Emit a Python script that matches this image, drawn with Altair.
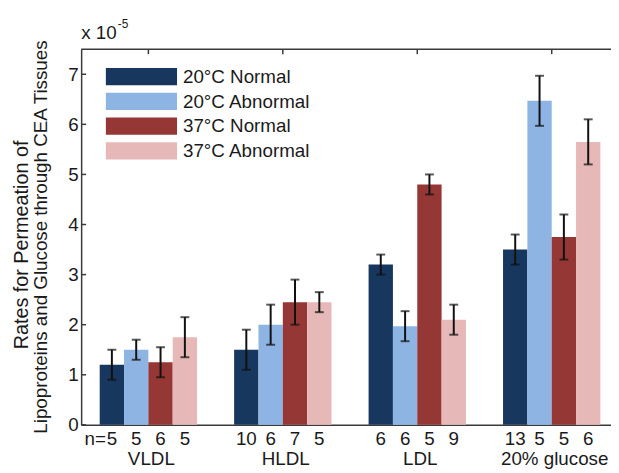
import altair as alt
import pandas as pd

# ---- data ----
groups = ["VLDL", "HLDL", "LDL", "20% glucose"]
series = ["20°C Normal", "20°C Abnormal", "37°C Normal", "37°C Abnormal"]
colors = ["#17375E", "#8DB4E2", "#953735", "#E6B9B8"]

means_20N = [1.2, 1.5, 3.2, 3.5]
means_20A = [1.5, 2.0, 1.97, 6.47]
means_37N = [1.25, 2.45, 4.8, 3.75]
means_37A = [1.75, 2.45, 2.1, 5.65]

err_20N = [0.3, 0.4, 0.2, 0.3]
err_20A = [0.2, 0.4, 0.3, 0.5]
err_37N = [0.3, 0.45, 0.2, 0.45]
err_37A = [0.4, 0.2, 0.3, 0.45]

n_20N = [5, 10, 6, 13]
n_20A = [5, 6, 6, 5]
n_37N = [6, 7, 5, 5]
n_37A = [5, 5, 9, 6]

y_ticks = [0, 1, 2, 3, 4, 5, 6, 7]

# ---- layout ----
W, H = 536, 380
PAD_L, PAD_T = 74, 39
BAR_W = 0.181  # in group units
FONT = "Liberation Sans"
FS = 19
TXT = "#1a1a1a"
AX = "#3a3a3a"

means = [means_20N, means_20A, means_37N, means_37A]
errs = [err_20N, err_20A, err_37N, err_37A]
ns = [n_20N, n_20A, n_37N, n_37A]

rows = []
for si, s in enumerate(series):
    off = (si - 1.5) * BAR_W
    for gi, g in enumerate(groups):
        c = gi + 1 + off
        m = means[si][gi]
        e = errs[si][gi]
        rows.append(dict(series=s, group=g, x=c, x0=c - BAR_W / 2, x1=c + BAR_W / 2,
                         base=0.0, mean=m, lo=m - e, hi=m + e, n=str(ns[si][gi])))
df = pd.DataFrame(rows)

xscale = alt.Scale(domain=[0.5, 4.441], nice=False, zero=False)
yscale = alt.Scale(domain=[0, 7.5], nice=False)
xaxis = alt.Axis(labels=False, ticks=False, grid=False, title=None,
                 domainColor=AX, domainWidth=1.5)
yaxis = alt.Axis(values=y_ticks, ticks=False, grid=False, title=None,
                 labelFont=FONT, labelFontSize=FS, labelColor=TXT, labelPadding=3,
                 domainColor=AX, domainWidth=1.5)
X = lambda f: alt.X(f, scale=xscale, axis=xaxis)
Y = lambda f: alt.Y(f, scale=yscale, axis=yaxis)
cscale = alt.Scale(domain=series, range=colors)

bars = alt.Chart(df).mark_rect(stroke=None).encode(
    x=X("x0:Q"), x2="x1:Q", y=Y("mean:Q"), y2="base:Q",
    color=alt.Color("series:N", scale=cscale, legend=None),
)
err_rule = alt.Chart(df).mark_rule(color="#111", strokeWidth=2).encode(
    x=X("x:Q"), y=Y("lo:Q"), y2="hi:Q")
cap_lo = alt.Chart(df).mark_tick(color="#111", orient="horizontal", size=9, thickness=2).encode(
    x=X("x:Q"), y=Y("lo:Q"))
cap_hi = alt.Chart(df).mark_tick(color="#111", orient="horizontal", size=9, thickness=2).encode(
    x=X("x:Q"), y=Y("hi:Q"))

# inward ticks on left axis and top frame
ytick_df = pd.DataFrame({"v": y_ticks})
left_ticks = alt.Chart(ytick_df).mark_rule(color=AX, strokeWidth=1.5).encode(
    y=Y("v:Q"), x=alt.value(0), x2=alt.value(5))
gpos_df = pd.DataFrame({"g": groups, "pos": [1, 2, 3, 4]})
top_ticks = alt.Chart(gpos_df).mark_rule(color=AX, strokeWidth=1.5).encode(
    x=X("pos:Q"), y=alt.value(0), y2=alt.value(5))
top_frame = alt.Chart(gpos_df.head(1)).mark_rule(color=AX, strokeWidth=1.5).encode(
    x=alt.value(0), x2=alt.value(W), y=alt.value(0))

# n labels and group labels
n_text = alt.Chart(df).mark_text(font=FONT, fontSize=FS, color=TXT, baseline="middle").encode(
    x=X("x:Q"), y=alt.value(H + 14), text="n:N")
first = df[(df.series == series[0]) & (df.group == groups[0])]
n_eq = alt.Chart(first).mark_text(font=FONT, fontSize=FS, color=TXT, baseline="middle",
                                  align="right", dx=-6).encode(
    x=X("x:Q"), y=alt.value(H + 14), text=alt.value("n="))
g_text = alt.Chart(gpos_df).mark_text(font=FONT, fontSize=FS, color=TXT, baseline="middle",
                                      dx=3).encode(
    x=X("pos:Q"), y=alt.value(H + 35), text="g:N")

# exponent label
one = pd.DataFrame({"k": [0]})
x10 = alt.Chart(one).mark_text(font=FONT, fontSize=FS, color=TXT, align="left",
                               baseline="alphabetic").encode(
    x=alt.value(0), y=alt.value(-10), text=alt.value("x 10"))
x10e = alt.Chart(one).mark_text(font=FONT, fontSize=12, color=TXT, align="left",
                                baseline="alphabetic").encode(
    x=alt.value(37), y=alt.value(-21), text=alt.value("-5"))

# y title (two lines)
yt1 = alt.Chart(one).mark_text(font=FONT, fontSize=FS + 1, color=TXT, angle=270, align="center",
                               baseline="alphabetic").encode(
    x=alt.value(-54), y=alt.value(198), text=alt.value("Rates for Permeation of"))
yt2 = alt.Chart(one).mark_text(font=FONT, fontSize=FS, color=TXT, angle=270, align="center",
                               baseline="alphabetic").encode(
    x=alt.value(-35), y=alt.value(190),
    text=alt.value("Lipoproteins and Glucose through CEA Tissues"))

# manual legend (one box/text layer per entry, placed in pixels)
legend_layers = []
for i, s in enumerate(series):
    y0 = 19 + i * 25
    sd = pd.DataFrame({"series": [s]})
    legend_layers.append(alt.Chart(sd).mark_rect().encode(
        x=alt.value(25), x2=alt.value(97), y=alt.value(y0), y2=alt.value(y0 + 17.5),
        color=alt.Color("series:N", scale=cscale, legend=None)))
    legend_layers.append(alt.Chart(sd).mark_text(font=FONT, fontSize=FS, color=TXT,
                                                 align="left", baseline="middle").encode(
        x=alt.value(103), y=alt.value(y0 + 9), text="series:N"))

chart = alt.layer(
    bars, err_rule, cap_lo, cap_hi, left_ticks, top_ticks, top_frame,
    n_text, n_eq, g_text, x10, x10e, yt1, yt2, *legend_layers,
).properties(
    width=W, height=H,
    autosize=alt.AutoSizeParams(type="none"),
    padding={"left": PAD_L, "top": PAD_T, "right": 0, "bottom": 46},
    background="white",
).configure_view(stroke=None)

chart.save("out.html", embed_options={"renderer": "svg", "actions": False})
